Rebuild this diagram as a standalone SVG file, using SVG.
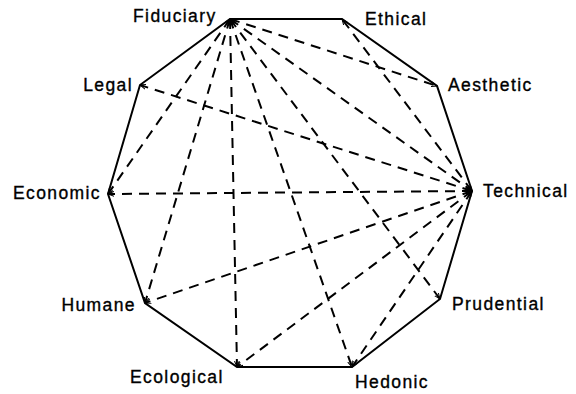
<svg xmlns="http://www.w3.org/2000/svg" width="576" height="394" viewBox="0 0 576 394">
<style>
  .lbl { font-family: "Liberation Sans", Arial, sans-serif; font-size: 17.5px; letter-spacing: 1.4px; fill: #000; stroke: #000; stroke-width: 0.35; }
  .frame { fill: none; stroke: #000; stroke-width: 2; stroke-linejoin: miter; }
  .dash { fill: none; stroke: #000; stroke-width: 2; stroke-dasharray: 10 7; marker-start: url(#ah); marker-end: url(#ah); }
</style>
<defs>
  <marker id="ah" viewBox="0 0 6 6" refX="6" refY="3" markerWidth="6" markerHeight="6" markerUnits="userSpaceOnUse" orient="auto-start-reverse">
    <path d="M0,0.6 L6,3 L0,5.4" fill="none" stroke="#000" stroke-width="1" stroke-dasharray="none"/>
  </marker>
</defs>
<rect width="576" height="394" fill="#fff"/>
<g id="frame">
  <polygon class="frame" points="230,19 342,19 437,86 472,191 440,299 352,367 237,367 145,303 108,194 140,85"/>
</g>
<g id="connectors">
  <line class="dash" x1="230" y1="19" x2="437" y2="86"/>
  <line class="dash" x1="230" y1="19" x2="472" y2="191"/>
  <line class="dash" x1="230" y1="19" x2="440" y2="299"/>
  <line class="dash" x1="230" y1="19" x2="352" y2="367"/>
  <line class="dash" x1="230" y1="19" x2="237" y2="367"/>
  <line class="dash" x1="230" y1="19" x2="145" y2="303"/>
  <line class="dash" x1="230" y1="19" x2="108" y2="194"/>
  <line class="dash" x1="472" y1="191" x2="342" y2="19"/>
  <line class="dash" x1="472" y1="191" x2="140" y2="85"/>
  <line class="dash" x1="472" y1="191" x2="108" y2="194"/>
  <line class="dash" x1="472" y1="191" x2="145" y2="303"/>
  <line class="dash" x1="472" y1="191" x2="237" y2="367"/>
  <line class="dash" x1="472" y1="191" x2="352" y2="367"/>
</g>
<g id="fiduciary"><text class="lbl" x="133" y="22">Fiduciary</text></g>
<g id="ethical"><text class="lbl" x="365" y="25">Ethical</text></g>
<g id="aesthetic"><text class="lbl" x="448" y="91">Aesthetic</text></g>
<g id="technical"><text class="lbl" x="483" y="197">Technical</text></g>
<g id="prudential"><text class="lbl" x="452" y="310">Prudential</text></g>
<g id="hedonic"><text class="lbl" x="355" y="388">Hedonic</text></g>
<g id="ecological"><text class="lbl" x="130" y="383">Ecological</text></g>
<g id="humane"><text class="lbl" x="136" y="311" text-anchor="end">Humane</text></g>
<g id="economic"><text class="lbl" x="101" y="199" text-anchor="end">Economic</text></g>
<g id="legal"><text class="lbl" x="133" y="91" text-anchor="end">Legal</text></g>
</svg>
